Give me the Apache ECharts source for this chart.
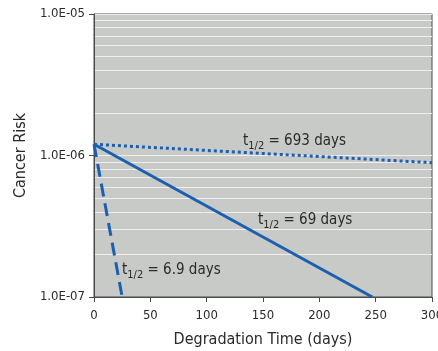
<!DOCTYPE html>
<html><head><meta charset="utf-8">
<script src="https://cdn.jsdelivr.net/npm/echarts@6/dist/echarts.min.js"></script>
<style>html,body{margin:0;padding:0;background:#fff}#c{width:438px;height:351px}</style>
</head><body><div id="c"></div>
<script>
var xTicks = [0, 50, 100, 150, 200, 250, 300];
var series693 = [[0, 1.2e-6], [300, 8.9e-7]];
var series69 = [[0, 1.2e-6], [247, 1e-7]];
var series6_9 = [[0, 1.2e-6], [25, 1e-7]];
var labels = ['693 days', '69 days', '6.9 days'];

var FONT = "'Liberation Sans Narrow','DejaVu Sans Condensed','Roboto Condensed','Noto Sans Condensed','Liberation Sans',sans-serif";
var TXT = '#2a2a2a';
var BLUE = '#1c5fb0';

function fmtExp(v) {
  var e = Math.round(Math.log10(v));
  var s = e < 0 ? '-' : '+';
  var a = Math.abs(e);
  return '1.0E' + s + (a < 10 ? '0' : '') + a;
}
function rich() {
  return { t: { fontSize: 15, fontFamily: FONT, color: TXT },
           s: { fontSize: 11, fontFamily: FONT, color: TXT, padding: [9, 0, 0, 0] },
           n: { fontSize: 15, fontFamily: FONT, color: TXT } };
}
function annot(x, y, label) {
  return { type: 'text', left: x, top: y, z: 100,
    style: { text: '{t|t}{s|1/2}{n| = ' + label + '}', rich: rich(), fill: TXT } };
}

var chart = echarts.init(document.getElementById('c'), null, { renderer: 'canvas' });
chart.setOption({
  animation: false,
  grid: { left: 94, right: 6, top: 14, bottom: 54, show: true, containLabel: false,
          outerBoundsMode: 'none',
          backgroundColor: '#c8cac8', borderColor: '#4a4a4a', borderWidth: 1 },
  xAxis: {
    type: 'value', min: 0, max: 300, interval: 50,
    name: 'Degradation Time (days)', nameLocation: 'middle', nameGap: 35,
    nameTextStyle: { fontSize: 16, fontFamily: FONT, color: TXT },
    axisLine: { lineStyle: { color: '#4a4a4a', width: 1 } },
    axisTick: { show: true, length: 5, lineStyle: { color: '#4a4a4a' } },
    axisLabel: { fontSize: 13, fontFamily: FONT, color: TXT, margin: 12 },
    splitLine: { show: false }
  },
  yAxis: {
    type: 'log', logBase: 10, min: 1e-7, max: 1e-5,
    name: 'Cancer Risk', nameLocation: 'middle', nameGap: 62, nameRotate: 90,
    nameTextStyle: { fontSize: 16, fontFamily: FONT, color: TXT },
    axisLine: { show: true, lineStyle: { color: '#4a4a4a', width: 1 } },
    axisTick: { show: true, length: 5, lineStyle: { color: '#4a4a4a' } },
    axisLabel: { fontSize: 13, fontFamily: FONT, color: TXT, margin: 9,
                 formatter: function (v) { return fmtExp(v); } },
    splitLine: { show: true, lineStyle: { color: '#eeeeee', width: 1 } },
    minorTick: { show: false, splitNumber: 9 },
    minorSplitLine: { show: true, lineStyle: { color: '#eeeeee', width: 1 } }
  },
  graphic: [
    annot(243, 134, labels[0]),
    annot(258, 213, labels[1]),
    annot(122, 263, labels[2])
  ],
  series: [
    { type: 'line', data: series693, symbol: 'none', z: 5,
      lineStyle: { color: BLUE, width: 3, type: [3, 3] } },
    { type: 'line', data: series69, symbol: 'none', z: 5,
      lineStyle: { color: BLUE, width: 3, type: 'solid' } },
    { type: 'line', data: series6_9, symbol: 'none', z: 5,
      lineStyle: { color: BLUE, width: 3, type: [13, 7] } }
  ]
});
</script></body></html>
